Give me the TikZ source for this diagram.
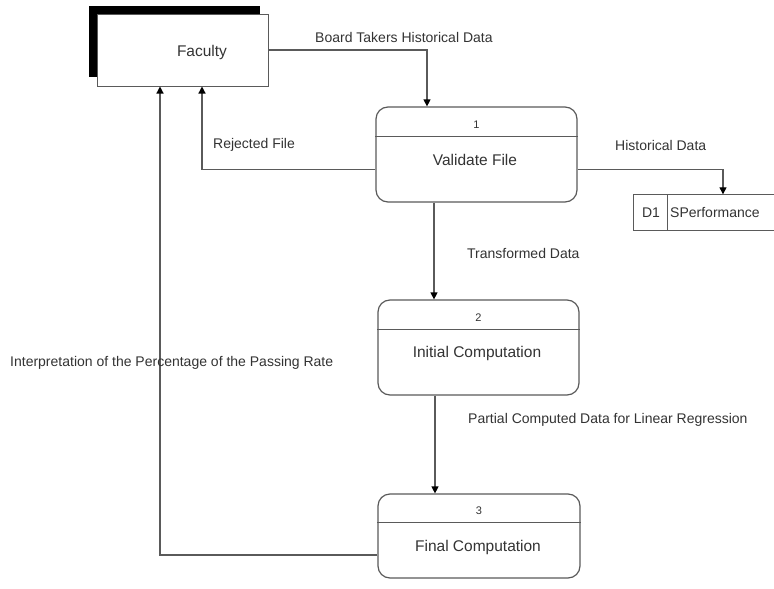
\documentclass[tikz,border=0pt]{standalone}
\usepackage{fontspec}
\setmainfont{Liberation Sans}
\usetikzlibrary{arrows.meta,calc}
\definecolor{boxgray}{HTML}{5A5A5A}
\definecolor{linegray}{HTML}{5A5A5A}
\definecolor{txtgray}{HTML}{333333}
\begin{document}
\begin{tikzpicture}[x=1pt,y=-1pt,
  proc/.style={draw=boxgray, line width=1.2pt, rounded corners=12pt, minimum width=201pt, minimum height=95pt, inner sep=0pt},
  flow/.style={draw=linegray, line width=1.2pt, -{Triangle[length=7pt,width=7pt,color=black]}},
  lbl/.style={anchor=base west, inner sep=0pt, font=\fontsize{14}{16}\selectfont, text=txtgray},
  ptitle/.style={inner sep=0pt, font=\fontsize{15.5}{18}\selectfont, text=txtgray},
  pnum/.style={inner sep=0pt, font=\fontsize{11}{13}\selectfont, text=txtgray},
  divider/.style={draw=boxgray, line width=1.2pt}
]
\useasboundingbox (0,0) rectangle (774,589);
\fill[white] (0,0) rectangle (774,589);

% Faculty external entity with shadow
\fill[black] (89,6) rectangle (260,77);
\node[draw=boxgray, line width=1pt, fill=white, minimum width=171pt, minimum height=72pt, inner sep=0pt] (fac) at (182.5,50) {};
\node[ptitle] (fact) at (202,52) {Faculty};

% Processes
\node[proc] (p1) at (476.5,154.5) {};
\draw[divider] ([yshift=-30pt]p1.north west) -- ([yshift=-30pt]p1.north east);
\node[pnum] (p1n) at ($(p1.north)+(0,18)$) {1};
\node[ptitle] (p1t) at (475,160) {Validate File};

\node[proc] (p2) at (478.5,347.5) {};
\draw[divider] ([yshift=-30pt]p2.north west) -- ([yshift=-30pt]p2.north east);
\node[pnum] (p2n) at ($(p2.north)+(0,18)$) {2};
\node[ptitle] (p2t) at (477,353) {Initial Computation};

\node[proc, minimum width=202pt, minimum height=84pt] (p3) at (479,536) {};
\draw[divider] ([yshift=-29pt]p3.north west) -- ([yshift=-29pt]p3.north east);
\node[pnum] (p3n) at ($(p3.north)+(0,17)$) {3};
\node[ptitle] (p3t) at (478,547) {Final Computation};

% Data store
\node[minimum width=140pt, minimum height=36pt, inner sep=0pt] (ds) at (704,212.5) {};
\draw[divider] (ds.north east) -- (ds.north west) -- (ds.south west) -- (ds.south east);
\draw[divider] ([xshift=34pt]ds.north west) -- ([xshift=34pt]ds.south west);
\node[inner sep=0pt, font=\fontsize{14}{16}\selectfont, text=txtgray] (dsid) at (651,213) {D1};
\node[inner sep=0pt, anchor=west, font=\fontsize{14}{16}\selectfont, text=txtgray] (dsname) at (670,213) {SPerformance};

% Flows
\draw[flow] (fac.east) -| ([xshift=-49.5pt]p1.north);
\draw[flow] ([yshift=-15pt]p1.west) -| ([xshift=19.5pt]fac.south);
\draw[flow] ([yshift=-15pt]p1.east) -| ([xshift=19pt]ds.north);
\draw[flow] ([xshift=-42.5pt]p1.south) -- ([xshift=-42.5pt]p1.south |- p2.north);
\draw[flow] ([xshift=-43.5pt]p2.south) -- ([xshift=-43.5pt]p2.south |- p3.north);
\draw[flow] ([yshift=-19pt]p3.west) -| ([xshift=-22.5pt]fac.south);

% Labels
\node[lbl] (l1) at (315,42) {Board Takers Historical Data};
\node[lbl] (l2) at (213,148) {Rejected File};
\node[lbl] (l3) at (615,150) {Historical Data};
\node[lbl] (l4) at (467,258) {Transformed Data};
\node[lbl] (l5) at (10,366) {Interpretation of the Percentage of the Passing Rate};
\node[lbl] (l6) at (468,423) {Partial Computed Data for Linear Regression};
\end{tikzpicture}
\end{document}
